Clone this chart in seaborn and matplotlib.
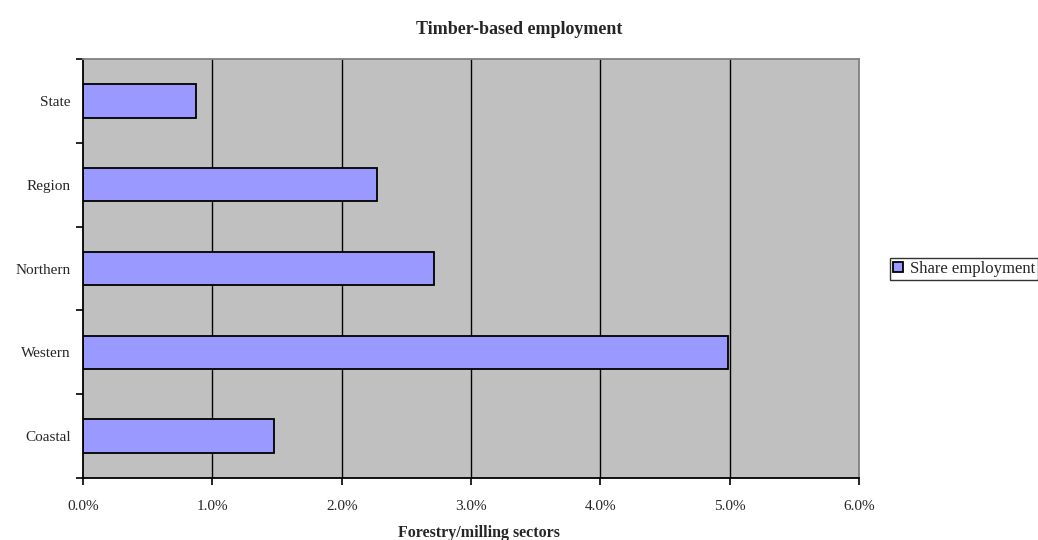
import matplotlib
matplotlib.use("Agg")
import matplotlib.pyplot as plt
import seaborn as sns
import pandas as pd
import numpy as np
from matplotlib.ticker import FuncFormatter

categories = ["State", "Region", "Northern", "Western", "Coastal"]
share_employment = [0.0087, 0.0227, 0.0271, 0.0499, 0.0148]
series_name = "Share employment"
xticks = [0.0, 0.01, 0.02, 0.03, 0.04, 0.05, 0.06]

sns.set_theme(style="white")
plt.rcParams['font.family'] = ['Liberation Serif', 'DejaVu Serif']

df = pd.DataFrame({"category": categories, "value": share_employment, "series": series_name})

fig = plt.figure(figsize=(10.38, 5.4), dpi=100)
ax = fig.add_axes([0.080, 0.1148, 0.7476, 0.7759])
ax.set_facecolor("#C0C0C0")

sns.barplot(data=df, y="category", x="value", hue="series", orient="h",
            palette=["#9999FF"], saturation=1, edgecolor="black", linewidth=1.3, width=0.4,
            ax=ax, legend=True)

ax.set_xlim(0, 0.06)
ax.set_ylim(4.5, -0.5)
ax.set_xticks(xticks)
ax.xaxis.set_major_formatter(FuncFormatter(lambda v, p: f"{v*100:.1f}%"))
for x in xticks[1:-1]:
    ax.axvline(x, color="black", lw=1.0, zorder=0.5)

# y ticks at category boundaries, labels at centers
ax.set_yticks(np.arange(-0.5, len(categories), 1.0))
ax.set_yticklabels([])
ax.set_yticks(np.arange(len(categories)), minor=True)
ax.set_yticklabels(categories, minor=True)
ax.tick_params(axis="y", which="major", direction="out", length=5, width=1.2, color="black", left=True)
ax.tick_params(axis="y", which="minor", length=0, pad=9, labelsize=11)
ax.tick_params(axis="x", which="major", direction="out", length=5, width=1.2, color="black",
               bottom=True, labelsize=11, pad=11)

ax.spines["left"].set_color("black")
ax.spines["left"].set_linewidth(1.3)
ax.spines["bottom"].set_color("black")
ax.spines["bottom"].set_linewidth(1.3)
ax.spines["top"].set_color("#808080")
ax.spines["right"].set_color("#808080")
ax.spines["top"].set_linewidth(1.3)
ax.spines["right"].set_linewidth(1.3)

ax.set_xlabel("")
ax.set_ylabel("")
fig.text(0.4615, 1 - 533 / 540, "Forestry/milling sectors", ha="center", va="center",
         fontsize=11.5, fontweight="bold")
fig.text(0.500, 1 - 29 / 540, "Timber-based employment", ha="center", va="center",
         fontsize=13, fontweight="bold")

handles, labels = ax.get_legend_handles_labels()
ax.get_legend().remove()
leg = fig.legend(handles, labels, loc="center left", bbox_to_anchor=(0.857, 0.502),
                 frameon=True, fancybox=False, edgecolor="black", fontsize=12,
                 handlelength=0.6, handleheight=0.6, handletextpad=0.4,
                 borderpad=0.2, borderaxespad=0)
leg.get_frame().set_linewidth(1.0)

fig.savefig("out.png", dpi=100)
